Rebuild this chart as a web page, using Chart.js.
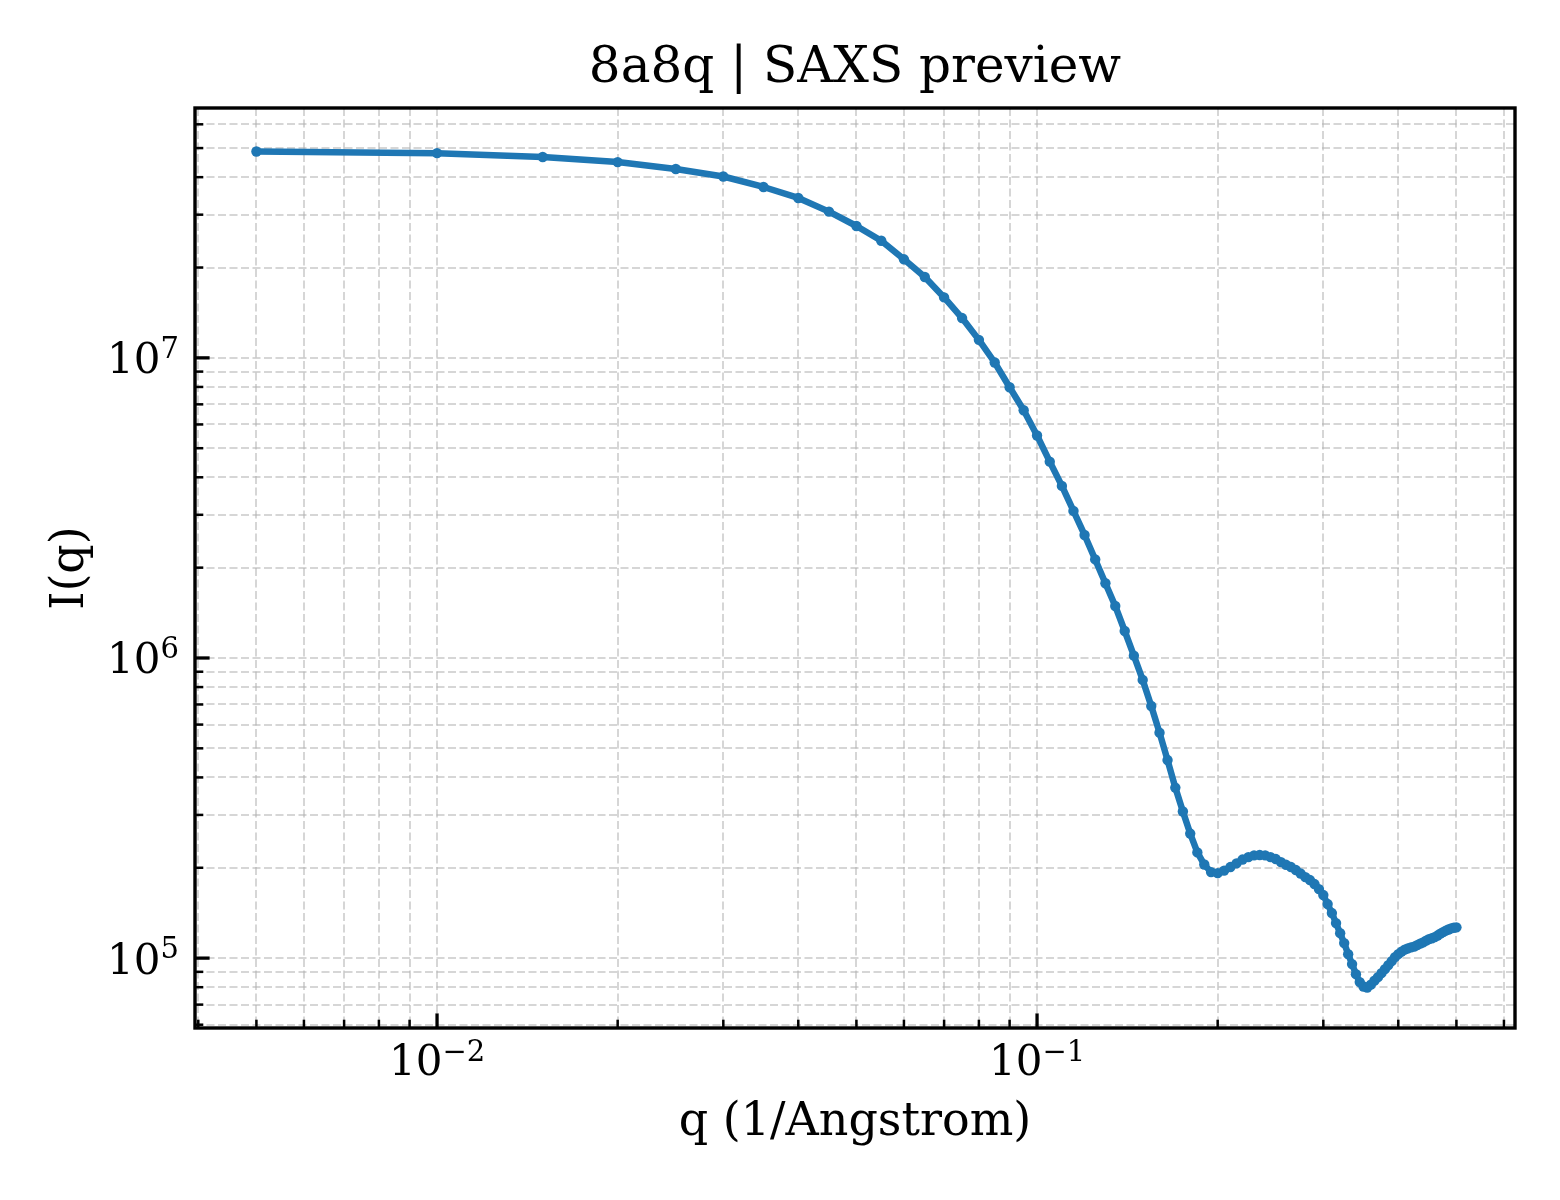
<!DOCTYPE html>
<html>
<head>
<meta charset="utf-8">
<script src="https://cdn.jsdelivr.net/npm/chart.js@4.4.1/dist/chart.umd.min.js"></script>
<style>
  html, body { margin: 0; padding: 0; background: #ffffff; }
  #wrap { width: 1560px; height: 1200px; }
</style>
</head>
<body>
<div id="wrap"><canvas id="c" width="1560" height="1200"></canvas></div>
<script>
// ---- data ----
const qValues = [
  0.005, 0.010, 0.015, 0.020, 0.025, 0.030, 0.035, 0.040, 0.045, 0.050,
  0.055, 0.060, 0.065, 0.070, 0.075, 0.080, 0.085, 0.090, 0.095, 0.100,
  0.105, 0.110, 0.115, 0.120, 0.125, 0.130, 0.135, 0.140, 0.145, 0.150,
  0.155, 0.160, 0.165, 0.170, 0.175, 0.180, 0.185, 0.190, 0.195, 0.200,
  0.205, 0.210, 0.215, 0.220, 0.225, 0.230, 0.235, 0.240, 0.245, 0.250,
  0.255, 0.260, 0.265, 0.270, 0.275, 0.280, 0.285, 0.290, 0.295, 0.300,
  0.305, 0.310, 0.315, 0.320, 0.325, 0.330, 0.335, 0.340, 0.345, 0.350,
  0.355, 0.360, 0.365, 0.370, 0.375, 0.380, 0.385, 0.390, 0.395, 0.400,
  0.405, 0.410, 0.415, 0.420, 0.425, 0.430, 0.435, 0.440, 0.445, 0.450,
  0.455, 0.460, 0.465, 0.470, 0.475, 0.480, 0.485, 0.490, 0.495, 0.500
];
const intensityValues = [
  4.87e7, 4.81e7, 4.67e7, 4.49e7, 4.26e7, 4.02e7, 3.71e7, 3.41e7, 3.07e7, 2.75e7,
  2.455e7, 2.13e7, 1.86e7, 1.59e7, 1.357e7, 1.148e7, 9.65e6, 7.98e6, 6.69e6, 5.51e6,
  4.51e6, 3.745e6, 3.09e6, 2.57e6, 2.13e6, 1.774e6, 1.49e6, 1.23e6, 1.018e6, 8.45e5,
  6.92e5, 5.64e5, 4.57e5, 3.70e5, 3.08e5, 2.60e5, 2.25e5, 2.05e5, 1.935e5, 1.92e5,
  1.957e5, 2.011e5, 2.069e5, 2.13e5, 2.171e5, 2.20e5, 2.205e5, 2.20e5, 2.171e5, 2.138e5,
  2.089e5, 2.046e5, 2.011e5, 1.965e5, 1.913e5, 1.862e5, 1.82e5, 1.765e5, 1.698e5, 1.622e5,
  1.514e5, 1.413e5, 1.308e5, 1.211e5, 1.122e5, 1.031e5, 9.55e4, 8.84e4, 8.32e4, 8.04e4,
  7.98e4, 8.16e4, 8.41e4, 8.64e4, 8.91e4, 9.19e4, 9.48e4, 9.77e4, 1.008e5, 1.031e5,
  1.051e5, 1.067e5, 1.077e5, 1.086e5, 1.092e5, 1.105e5, 1.118e5, 1.128e5, 1.144e5, 1.157e5,
  1.164e5, 1.175e5, 1.189e5, 1.207e5, 1.221e5, 1.235e5, 1.246e5, 1.256e5, 1.262e5, 1.266e5
];
// tick labels: base and exponent (drawn as 10 with a superscript)
const xDecadeTicks = [0.01, 0.1];
const xDecadeExponents = ['\u22122', '\u22121'];
const yDecadeTicks = [1e5, 1e6, 1e7];
const yDecadeExponents = ['5', '6', '7'];
const tickBase = '10';
const xRange = [0.00395, 0.626];
const yRange = [5.85e4, 6.8e7];
const chartTitle = '8a8q | SAXS preview';
const xAxisTitle = 'q (1/Angstrom)';
const yAxisTitle = 'I(q)';

// ---- styling ----
const FONT = 'DejaVu Serif';
const LINE_COLOR = '#1f77b4';
const GRID_COLOR = 'rgba(180,180,180,0.55)';
const TICK_FONT = 42;
const SUP_FONT = 29;

function logTicks(min, max) {
  const out = [];
  const lo = Math.floor(Math.log10(min));
  const hi = Math.ceil(Math.log10(max));
  for (let e = lo; e <= hi; e++) {
    for (let m = 1; m <= 9; m++) {
      const v = m * Math.pow(10, e);
      if (v >= min * 0.9999 && v <= max * 1.0001) out.push({ value: v, major: m === 1 });
    }
  }
  return out;
}

const frameAndTicks = {
  id: 'frameAndTicks',
  afterDatasetsDraw(chart) {
    const { ctx, chartArea: a, scales } = chart;
    ctx.save();
    ctx.strokeStyle = '#000000';
    ctx.lineCap = 'butt';
    scales.x.ticks.forEach(t => {
      const p = scales.x.getPixelForValue(t.value);
      const len = t.major ? 14.6 : 8.3;
      ctx.lineWidth = t.major ? 3.3 : 2.5;
      ctx.beginPath();
      ctx.moveTo(p, a.bottom);
      ctx.lineTo(p, a.bottom - len);
      ctx.stroke();
    });
    scales.y.ticks.forEach(t => {
      const p = scales.y.getPixelForValue(t.value);
      const len = t.major ? 14.6 : 8.3;
      ctx.lineWidth = t.major ? 3.3 : 2.5;
      ctx.beginPath();
      ctx.moveTo(a.left, p);
      ctx.lineTo(a.left + len, p);
      ctx.stroke();
    });
    ctx.lineWidth = 3.4;
    ctx.strokeRect(a.left, a.top, a.right - a.left, a.bottom - a.top);

    // decade tick labels: "10" with a superscript exponent
    ctx.fillStyle = '#000000';
    ctx.textBaseline = 'alphabetic';
    ctx.textAlign = 'left';
    const baseFont = TICK_FONT + 'px "' + FONT + '"';
    const supFont = SUP_FONT + 'px "' + FONT + '"';
    const measure = (txt, f) => { ctx.font = f; return ctx.measureText(txt).width; };
    xDecadeTicks.forEach((v, i) => {
      const p = scales.x.getPixelForValue(v);
      const wb = measure(tickBase, baseFont);
      const we = measure(xDecadeExponents[i], supFont);
      const x0 = p - (wb + we) / 2;
      const baseY = a.bottom + 47;
      ctx.font = baseFont; ctx.fillText(tickBase, x0, baseY);
      ctx.font = supFont; ctx.fillText(xDecadeExponents[i], x0 + wb, baseY - 14.5);
    });
    yDecadeTicks.forEach((v, i) => {
      const p = scales.y.getPixelForValue(v);
      const wb = measure(tickBase, baseFont);
      const we = measure(yDecadeExponents[i], supFont);
      const x0 = a.left - 16 - (wb + we);
      const baseY = p + 15.5;
      ctx.font = baseFont; ctx.fillText(tickBase, x0, baseY);
      ctx.font = supFont; ctx.fillText(yDecadeExponents[i], x0 + wb, baseY - 15.5);
    });
    ctx.restore();
  }
};

const points = qValues.map((q, i) => ({ x: q, y: intensityValues[i] }));

new Chart(document.getElementById('c'), {
  type: 'line',
  data: {
    datasets: [{
      label: 'I(q)',
      data: points,
      borderColor: LINE_COLOR,
      backgroundColor: LINE_COLOR,
      borderWidth: 6.5,
      borderJoinStyle: 'round',
      pointRadius: 5.2,
      pointHoverRadius: 5.2,
      pointBorderWidth: 0,
      pointBackgroundColor: LINE_COLOR,
      tension: 0,
      fill: false
    }]
  },
  options: {
    responsive: false,
    animation: false,
    devicePixelRatio: 1,
    layout: { padding: { left: 0, right: 45, top: 0, bottom: 0 } },
    plugins: {
      legend: { display: false },
      tooltip: { enabled: false },
      title: {
        display: true,
        text: chartTitle,
        color: '#000000',
        fullSize: false,
        font: { family: FONT, size: 50, weight: 'normal' },
        padding: { top: 39, bottom: 9 }
      }
    },
    scales: {
      x: {
        type: 'logarithmic',
        position: 'bottom',
        min: xRange[0],
        max: xRange[1],
        afterBuildTicks: (scale) => { scale.ticks = logTicks(scale.min, scale.max); },
        afterFit: (scale) => { scale.height = 172; },
        grid: { color: GRID_COLOR, lineWidth: 2, drawTicks: false },
        border: { display: false, dash: [8, 3.5] },
        ticks: { display: false, autoSkip: false, maxRotation: 0, minRotation: 0 },
        title: {
          display: true, text: xAxisTitle, color: '#000000',
          font: { family: FONT, size: 46 },
          padding: { top: 0, bottom: 49 }
        }
      },
      y: {
        type: 'logarithmic',
        position: 'left',
        min: yRange[0],
        max: yRange[1],
        afterBuildTicks: (scale) => { scale.ticks = logTicks(scale.min, scale.max); },
        afterFit: (scale) => { scale.width = 195; },
        grid: { color: GRID_COLOR, lineWidth: 2, drawTicks: false },
        border: { display: false, dash: [8, 3.5] },
        ticks: { display: false, autoSkip: false },
        title: {
          display: true, text: yAxisTitle, color: '#000000',
          font: { family: FONT, size: 46 },
          padding: { top: 43, bottom: 0 }
        }
      }
    }
  },
  plugins: [frameAndTicks]
});
</script>
</body>
</html>
